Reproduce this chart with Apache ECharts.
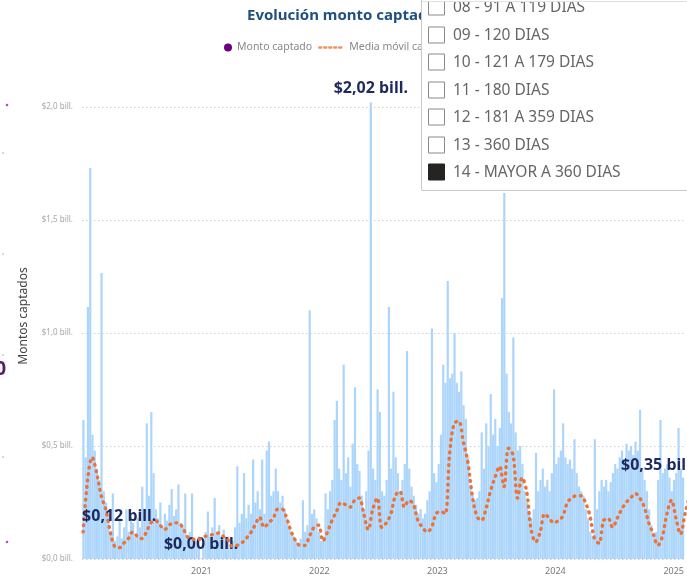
<!DOCTYPE html>
<html>
<head>
<meta charset="utf-8">
<script src="https://cdn.jsdelivr.net/npm/echarts@6/dist/echarts.min.js"></script>
<style>
  html, body { margin: 0; padding: 0; background: #fff; overflow: hidden; }
  #grafico { width: 687px; height: 577px; }
</style>
</head>
<body>
<div id="grafico"></div>
<script>
// montos semanales captados (billones), una barra por semana desde inicioSemanas
const inicioSemanas = '2020-01-02';
const montoSemanal = [
  0.615, 0.45, 1.115, 1.73, 0.55, 0.48, 0.40, 0.35, 1.265, 0.30,
  0.25, 0.20, 0.12, 0.29, 0.08, 0.10, 0.18, 0.09, 0.14, 0.22,
  0.12, 0.20, 0.16, 0.10, 0.18, 0.14, 0.32, 0.22, 0.60, 0.28,
  0.65, 0.38, 0.22, 0.18, 0.25, 0.14, 0.20, 0.17, 0.24, 0.31,
  0.19, 0.22, 0.33, 0.16, 0.14, 0.29, 0.10, 0.12, 0.29, 0.08,
  0.06, 0.10, 0.003, 0.07, 0.12, 0.21, 0.10, 0.14, 0.27, 0.12,
  0.15, 0.10, 0.13, 0.08, 0.10, 0.06, 0.08, 0.14, 0.41, 0.16,
  0.20, 0.38, 0.18, 0.24, 0.20, 0.44, 0.25, 0.30, 0.22, 0.44,
  0.20, 0.48, 0.52, 0.28, 0.30, 0.40, 0.30, 0.25, 0.28, 0.22,
  0.18, 0.14, 0.12, 0.10, 0.08, 0.06, 0.09, 0.26, 0.12, 0.15,
  1.10, 0.20, 0.22, 0.18, 0.12, 0.08, 0.10, 0.29, 0.22, 0.30,
  0.35, 0.615, 0.70, 0.40, 0.35, 0.86, 0.38, 0.45, 0.32, 0.51,
  0.76, 0.42, 0.39, 0.28, 0.22, 0.30, 0.48, 2.02, 0.40, 0.35,
  0.75, 0.65, 0.30, 0.28, 0.35, 1.115, 0.40, 0.74, 0.45, 0.38,
  0.30, 0.35, 0.42, 0.92, 0.40, 0.32, 0.28, 0.24, 0.20, 0.22,
  0.18, 0.20, 0.26, 0.30, 1.02, 0.38, 0.34, 0.42, 0.55, 0.86,
  0.78, 1.23, 0.80, 0.82, 1.00, 0.78, 0.74, 0.83, 0.68, 0.62,
  0.45, 0.32, 0.28, 0.26, 0.27, 0.30, 0.56, 0.40, 0.60, 0.50,
  0.73, 0.55, 0.62, 0.50, 0.58, 1.155, 1.62, 0.82, 0.65, 0.60,
  0.98, 0.56, 0.48, 0.50, 0.42, 0.30, 0.25, 0.20, 0.18, 0.22,
  0.47, 0.30, 0.35, 0.40, 0.32, 0.35, 0.30, 0.38, 0.75, 0.42,
  0.45, 0.48, 0.60, 0.45, 0.42, 0.44, 0.40, 0.53, 0.38, 0.32,
  0.30, 0.28, 0.22, 0.18, 0.12, 0.10, 0.53, 0.22, 0.30, 0.35,
  0.32, 0.35, 0.30, 0.34, 0.38, 0.42, 0.40, 0.45, 0.48, 0.44,
  0.51, 0.48, 0.50, 0.46, 0.52, 0.48, 0.66, 0.40, 0.35, 0.30,
  0.22, 0.15, 0.10, 0.12, 0.35, 0.615, 0.38, 0.40, 0.42, 0.36,
  0.30, 0.35, 0.38, 0.58, 0.40, 0.36
];
// media movil, un punto cada 14 dias desde inicioMedia
const inicioMedia = '2020-01-01';
const mediaMovil = [
  0.12, 0.35, 0.45, 0.38, 0.28, 0.22, 0.12, 0.055, 0.05, 0.07,
  0.09, 0.12, 0.10, 0.09, 0.12, 0.16, 0.17, 0.15, 0.13, 0.15,
  0.16, 0.16, 0.14, 0.10, 0.09, 0.085, 0.09, 0.10, 0.105, 0.11,
  0.115, 0.10, 0.085, 0.055, 0.06, 0.07, 0.09, 0.115, 0.15, 0.185,
  0.14, 0.16, 0.18, 0.22, 0.22, 0.18, 0.12, 0.08, 0.06, 0.06,
  0.10, 0.14, 0.15, 0.08, 0.12, 0.17, 0.21, 0.25, 0.24, 0.23,
  0.26, 0.27, 0.20, 0.13, 0.22, 0.27, 0.14, 0.16, 0.20, 0.28,
  0.30, 0.23, 0.26, 0.24, 0.17, 0.14, 0.12, 0.14, 0.20, 0.21,
  0.20, 0.47, 0.60, 0.61, 0.52, 0.43, 0.28, 0.19, 0.17, 0.22,
  0.30, 0.36, 0.41, 0.32, 0.49, 0.46, 0.27, 0.36, 0.30, 0.13,
  0.075, 0.12, 0.20, 0.18, 0.16, 0.17, 0.19, 0.25, 0.27, 0.28,
  0.28, 0.25, 0.19, 0.09, 0.07, 0.17, 0.18, 0.14, 0.18, 0.22,
  0.25, 0.27, 0.29, 0.27, 0.23, 0.16, 0.11, 0.06, 0.10, 0.20,
  0.26, 0.18, 0.11, 0.20, 0.28
];
const aniosEje = ['2021', '2022', '2023', '2024', '2025'];
const ticksY = [0, 0.5, 1.0, 1.5, 2.0];
// barras con etiqueta (minimo, maximo, ultimo) y primer punto de la media
const barrasEtiquetadas = [52, 127, 254];
const mediaEtiquetada = [0];
// segmentador que tapa parte del grafico
const opcionesPlazo = [
  '08 - 91 A 119 DIAS', '09 - 120 DIAS', '10 - 121 A 179 DIAS', '11 - 180 DIAS',
  '12 - 181 A 359 DIAS', '13 - 360 DIAS', '14 - MAYOR A 360 DIAS'
];
const plazoMarcado = 6;

function serieFechas(inicio, n, pasoDias) {
  const base = new Date(inicio + 'T00:00:00Z').getTime();
  const out = [];
  for (let i = 0; i < n; i++) {
    out.push(new Date(base + i * pasoDias * 86400000).toISOString().slice(0, 10));
  }
  return out;
}
const fechasSemana = serieFechas(inicioSemanas, montoSemanal.length, 7);
const fechasMedia = serieFechas(inicioMedia, mediaMovil.length, 14);

function billones(v, dec) {
  return '$' + v.toFixed(dec).replace('.', ',') + ' bill.';
}

const fuente = 'Noto Sans';
const estiloEtiqueta = {
  show: true, color: '#1E2A5E', fontSize: 16, fontWeight: 'bold', fontFamily: fuente,
  formatter: p => billones(p.value[1], 2)
};

// elementos del segmentador
const filaY = [7, 35, 62, 90, 117, 145, 172];
const segmentador = [{
  type: 'rect', shape: { x: 421.5, y: -4, width: 270, height: 194.5 },
  style: { fill: '#fff', stroke: '#c8c8c8', lineWidth: 1 }
}];
opcionesPlazo.forEach((t, i) => {
  const marcado = i === plazoMarcado;
  segmentador.push({
    type: 'rect', shape: { x: 428.5, y: filaY[i] - 8, width: 16, height: 16 },
    style: { fill: marcado ? '#252423' : '#fff', stroke: marcado ? '#252423' : '#8a8a8a', lineWidth: 1 }
  });
  segmentador.push({
    type: 'text', x: 453, y: filaY[i] + 0.5,
    style: { text: t, fill: '#666', fontSize: 15.5, fontFamily: fuente, verticalAlign: 'middle' }
  });
});
segmentador.push({
  type: 'rect', shape: { x: 422, y: -2, width: 265, height: 4 },
  style: { fill: '#fff' }
});
segmentador.push({
  type: 'line', shape: { x1: 422, y1: 1.5, x2: 687, y2: 1.5 },
  style: { stroke: '#e2e2e2', lineWidth: 1 }
});

// restos del visual vecino a la izquierda
const restos = [
  { type: 'text', x: 6, y: 370, style: { text: '0', fill: '#5b1a6e', fontSize: 19, fontWeight: 'bold', fontFamily: fuente, align: 'right', verticalAlign: 'middle' } },
  { type: 'circle', shape: { cx: 7, cy: 105, r: 1.3 }, style: { fill: '#a05ab0' } },
  { type: 'circle', shape: { cx: 7, cy: 542, r: 1.3 }, style: { fill: '#a05ab0' } },
  { type: 'circle', shape: { cx: 3, cy: 153, r: 1 }, style: { fill: '#ccc' } },
  { type: 'circle', shape: { cx: 3, cy: 254, r: 1 }, style: { fill: '#ccc' } },
  { type: 'circle', shape: { cx: 3, cy: 355, r: 1 }, style: { fill: '#ccc' } },
  { type: 'circle', shape: { cx: 3, cy: 457, r: 1 }, style: { fill: '#ccc' } }
];
const capaSuperior = segmentador.concat(restos).map(el => Object.assign({ z: 100 }, el));

const datosBarras = fechasSemana.map((f, i) => {
  const item = { value: [f, montoSemanal[i]] };
  if (barrasEtiquetadas.includes(i)) item.label = Object.assign({ position: 'top', distance: 6 }, estiloEtiqueta);
  return item;
});
const datosMedia = fechasMedia.map((f, i) => {
  const item = { value: [f, mediaMovil[i]] };
  if (mediaEtiquetada.includes(i)) item.label = Object.assign({ position: 'top', distance: 7, align: 'left', offset: [-1, 0] }, estiloEtiqueta);
  return item;
});

const chart = echarts.init(document.getElementById('grafico'));
chart.setOption({
  animation: false,
  title: {
    text: 'Evolución monto captado', left: 247, top: 8, padding: 0,
    textStyle: { color: '#21507F', fontSize: 15, fontWeight: 'bold', fontFamily: fuente }
  },
  legend: [{
    data: [{ name: 'Monto captado', icon: 'circle', itemStyle: { color: '#6B007B' } }],
    left: 224, top: 42, padding: 0, itemWidth: 8, itemHeight: 8,
    textStyle: { color: '#888', fontSize: 10.5, fontFamily: fuente }
  }, {
    data: ['Media móvil captado'],
    left: 318, top: 42, padding: 0, itemWidth: 25, itemHeight: 8,
    itemStyle: { opacity: 0 },
    lineStyle: { width: 2.5, type: [2, 3], color: '#EE9464' },
    textStyle: { color: '#888', fontSize: 10.5, fontFamily: fuente }
  }],
  grid: { left: 82, right: 0, top: 107, bottom: 18 },
  xAxis: {
    type: 'time', min: '2020-01-01', max: '2025-02-04',
    axisLine: { show: false }, axisTick: { show: false }, splitLine: { show: false },
    axisLabel: {
      color: '#777', fontSize: 9, fontFamily: fuente, margin: 8, hideOverlap: false,
      formatter: v => {
        const d = new Date(v);
        const a = String(d.getFullYear());
        return (d.getMonth() === 0 && d.getDate() === 1 && aniosEje.includes(a)) ? a : '';
      }
    }
  },
  yAxis: {
    type: 'value', min: ticksY[0], max: ticksY[ticksY.length - 1], interval: ticksY[1] - ticksY[0],
    name: 'Montos captados', nameLocation: 'middle', nameGap: 52,
    nameTextStyle: { color: '#444', fontSize: 12, fontFamily: fuente, padding: [0, 0, 0, 34] },
    axisLine: { show: false }, axisTick: { show: false },
    axisLabel: { color: '#a6a6a6', fontSize: 8, fontFamily: fuente, margin: 9, formatter: v => billones(v, 1) },
    splitLine: { lineStyle: { color: '#cfcfcf', type: [1.5, 2.5], width: 1 } }
  },
  series: [{
    name: 'Monto captado', type: 'bar', barWidth: 2.2, clip: false,
    itemStyle: { color: '#acd5fc' },
    data: datosBarras
  }, {
    name: 'Media móvil captado', type: 'line', smooth: 0.35,
    symbol: 'circle', symbolSize: 0, showSymbol: true,
    lineStyle: { color: '#E8743B', width: 3.4, type: [0.8, 5.6], cap: 'round' },
    itemStyle: { color: '#E8743B' },
    data: datosMedia
  }],
  graphic: capaSuperior
});
</script>
</body>
</html>
